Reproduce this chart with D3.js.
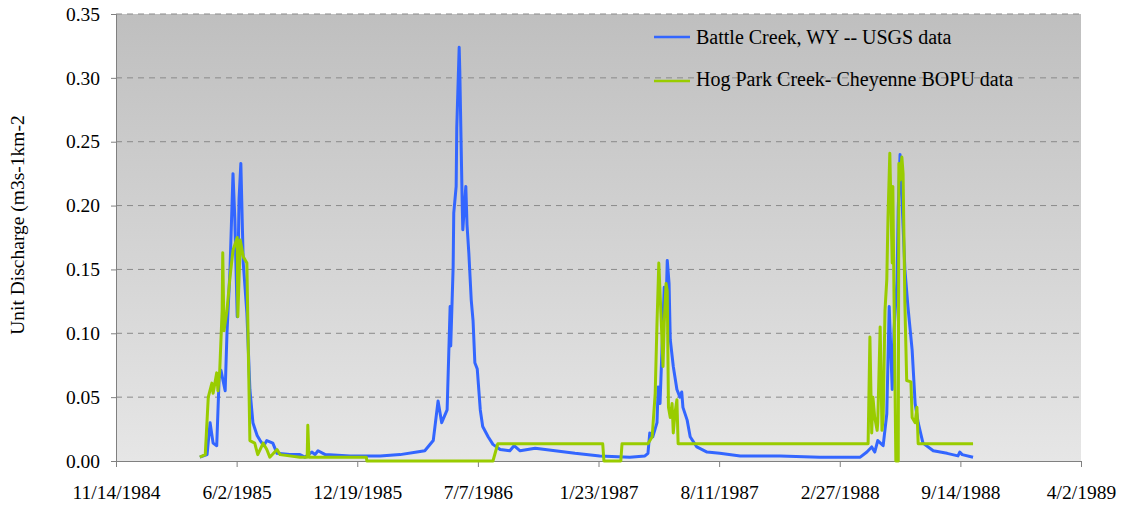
<!DOCTYPE html>
<html>
<head>
<meta charset="utf-8">
<script src="https://cdn.jsdelivr.net/npm/d3@7"></script>
<style>
  html, body { margin: 0; padding: 0; background: #ffffff; }
  svg { display: block; }
  text { font-family: "Liberation Serif", "Times New Roman", serif; fill: #000; }
</style>
</head>
<body>
<svg id="chart" width="1127" height="508"></svg>
<script>
// ---------------- DATA ----------------
const xTickLabels = ["11/14/1984", "6/2/1985", "12/19/1985", "7/7/1986", "1/23/1987",
                     "8/11/1987", "2/27/1988", "9/14/1988", "4/2/1989"];
const yTickValues = [0.00, 0.05, 0.10, 0.15, 0.20, 0.25, 0.30, 0.35];
const seriesNames = ["Battle Creek, WY -- USGS data", "Hog Park Creek- Cheyenne BOPU data"];

const battleDates = [
  "1985-04-02","1985-04-14","1985-04-19","1985-04-24","1985-04-30","1985-05-04","1985-05-07","1985-05-14",
  "1985-05-17","1985-05-22","1985-05-27","1985-05-30","1985-06-03","1985-06-06","1985-06-09","1985-06-13",
  "1985-06-19","1985-06-24","1985-06-29","1985-07-06","1985-07-11","1985-07-17","1985-07-22","1985-08-01",
  "1985-08-08","1985-08-29","1985-09-15","1985-09-23","1985-10-05","1985-10-10","1985-10-15","1985-10-27",
  "1985-12-07","1986-01-26","1986-02-28","1986-03-28","1986-04-10","1986-04-24","1986-05-02","1986-05-08",
  "1986-05-17","1986-05-22","1986-05-23","1986-05-27","1986-05-28","1986-06-01","1986-06-02","1986-06-06",
  "1986-06-07","1986-06-09","1986-06-11","1986-06-12","1986-06-17","1986-06-19","1986-06-22","1986-06-26",
  "1986-06-29","1986-07-02","1986-07-06","1986-07-11","1986-07-15","1986-07-24","1986-08-01","1986-08-13",
  "1986-08-29","1986-09-05","1986-09-15","1986-10-10","1986-11-12","1986-12-15","1987-01-25","1987-03-16",
  "1987-04-10","1987-04-15","1987-04-18","1987-04-23","1987-04-30","1987-05-02","1987-05-05","1987-05-10",
  "1987-05-12","1987-05-15","1987-05-17","1987-05-20","1987-05-22","1987-05-27","1987-06-02","1987-06-07",
  "1987-06-10","1987-06-12","1987-06-19","1987-06-24","1987-07-05","1987-07-22","1987-08-12","1987-09-15",
  "1987-11-20","1988-01-25","1988-04-01","1988-04-12","1988-04-20","1988-04-25","1988-04-30","1988-05-09",
  "1988-05-15","1988-05-19","1988-05-24","1988-05-27","1988-06-01","1988-06-03","1988-06-06","1988-06-09",
  "1988-06-14","1988-06-19","1988-06-26","1988-07-01","1988-07-06","1988-07-14","1988-07-31","1988-08-23",
  "1988-09-10","1988-09-13","1988-09-17","1988-10-05"
];
const battleValues = [
  0.003,0.005,0.030,0.014,0.012,0.065,0.071,0.055,
  0.100,0.150,0.225,0.190,0.113,0.205,0.233,0.155,
  0.116,0.056,0.030,0.020,0.016,0.012,0.016,0.014,
  0.006,0.005,0.005,0.003,0.007,0.005,0.008,0.005,
  0.004,0.004,0.005,0.007,0.008,0.016,0.047,0.030,
  0.040,0.121,0.090,0.152,0.194,0.215,0.261,0.324,
  0.306,0.254,0.202,0.181,0.215,0.185,0.163,0.126,
  0.110,0.077,0.072,0.040,0.027,0.019,0.013,0.009,
  0.008,0.012,0.008,0.010,0.008,0.006,0.004,0.003,
  0.004,0.006,0.022,0.019,0.030,0.058,0.045,0.110,
  0.136,0.120,0.157,0.139,0.095,0.074,0.056,0.050,
  0.054,0.042,0.032,0.019,0.011,0.007,0.006,0.004,
  0.004,0.003,0.003,0.007,0.011,0.007,0.016,0.012,
  0.037,0.121,0.056,0.103,0.141,0.198,0.240,0.207,
  0.150,0.121,0.087,0.045,0.030,0.014,0.008,0.006,
  0.004,0.007,0.005,0.003
];

const hogDates = [
  "1985-04-02","1985-04-11","1985-04-16","1985-04-22","1985-04-24","1985-04-30","1985-05-02","1985-05-05",
  "1985-05-09","1985-05-10","1985-05-12","1985-05-17","1985-05-22","1985-05-27","1985-06-03","1985-06-04",
  "1985-06-08","1985-06-13","1985-06-19","1985-06-21","1985-06-24","1985-07-02","1985-07-07","1985-07-16",
  "1985-07-22","1985-07-27","1985-08-08","1985-08-13","1985-09-15","1985-09-27","1985-09-28","1985-09-30",
  "1986-01-03","1986-01-04","1986-08-01","1986-08-09","1987-01-30","1987-02-01","1987-03-01","1987-03-03",
  "1987-04-15","1987-04-22","1987-04-27","1987-04-30","1987-05-03","1987-05-07","1987-05-10","1987-05-12",
  "1987-05-15","1987-05-17","1987-05-19","1987-05-22","1987-05-25","1987-05-27","1987-05-30","1987-06-02",
  "1987-06-04","1988-04-14","1988-04-17","1988-04-20","1988-04-22","1988-04-25","1988-04-29","1988-04-30",
  "1988-05-04","1988-05-07","1988-05-09","1988-05-12","1988-05-15","1988-05-17","1988-05-20","1988-05-24",
  "1988-05-25","1988-05-27","1988-05-30","1988-06-03","1988-06-04","1988-06-06","1988-06-09","1988-06-11",
  "1988-06-14","1988-06-17","1988-06-24","1988-06-26","1988-07-01","1988-07-04","1988-07-06","1988-10-05"
];
const hogValues = [
  0.003,0.005,0.050,0.061,0.053,0.069,0.055,0.071,
  0.118,0.163,0.102,0.118,0.144,0.165,0.175,0.113,
  0.173,0.160,0.155,0.097,0.016,0.014,0.005,0.014,
  0.009,0.003,0.009,0.005,0.003,0.003,0.028,0.003,
  0.003,0.000,0.000,0.0135,0.0135,0.000,0.000,0.0135,
  0.0135,0.019,0.053,0.108,0.155,0.110,0.074,0.108,
  0.139,0.133,0.042,0.034,0.045,0.022,0.038,0.048,
  0.0135,0.0135,0.097,0.022,0.050,0.034,0.024,0.030,
  0.105,0.024,0.034,0.118,0.142,0.191,0.241,0.155,
  0.215,0.128,0.000,0.000,0.233,0.220,0.238,0.225,
  0.123,0.063,0.062,0.034,0.030,0.042,0.0135,0.0135
];

// ---------------- CHART ----------------
const parseTick = d3.timeParse("%m/%d/%Y");
const parseISO = d3.timeParse("%Y-%m-%d");
const xTicks = xTickLabels.map(parseTick);

const margin = { left: 116, right: 1081, top: 14, bottom: 461 };
const svg = d3.select("#chart");

const x = d3.scaleTime()
  .domain([xTicks[0], xTicks[xTicks.length - 1]])
  .range([margin.left, margin.right]);
const y = d3.scaleLinear().domain([0, 0.35]).range([margin.bottom, margin.top]);

// background gradient
const defs = svg.append("defs");
const grad = defs.append("linearGradient").attr("id", "bg")
  .attr("x1", 0).attr("y1", 0).attr("x2", 0).attr("y2", 1);
grad.append("stop").attr("offset", "0%").attr("stop-color", "#bfbfbf");
grad.append("stop").attr("offset", "100%").attr("stop-color", "#e6e6e6");

svg.append("rect")
  .attr("x", margin.left).attr("y", margin.top)
  .attr("width", margin.right - margin.left)
  .attr("height", margin.bottom - margin.top)
  .attr("fill", "url(#bg)");

// gridlines
svg.append("g")
  .selectAll("line")
  .data(yTickValues.filter(v => v > 0))
  .join("line")
  .attr("x1", margin.left).attr("x2", margin.right)
  .attr("y1", d => y(d)).attr("y2", d => y(d))
  .attr("stroke", "#8a8a8a").attr("stroke-width", 1)
  .attr("stroke-dasharray", "6,5");

const tickFont = "19.5px";

// y axis
const yAxis = svg.append("g")
  .attr("transform", `translate(${margin.left},0)`)
  .call(d3.axisLeft(y).tickValues(yTickValues).tickFormat(d3.format(".2f")).tickSize(5).tickPadding(11));
yAxis.select(".domain").attr("stroke", "#808080");
yAxis.selectAll(".tick line").attr("stroke", "#808080");
yAxis.selectAll(".tick text").style("font-size", tickFont).style("font-family", '"Liberation Serif", serif').attr("fill", "#000");

// x axis
const xAxis = svg.append("g")
  .attr("transform", `translate(0,${margin.bottom})`)
  .call(d3.axisBottom(x).tickValues(xTicks).tickFormat((d, i) => xTickLabels[i]).tickSize(6).tickPadding(18));
xAxis.select(".domain").attr("stroke", "#808080");
xAxis.selectAll(".tick line").attr("stroke", "#808080");
xAxis.selectAll(".tick text").style("font-size", tickFont).style("font-family", '"Liberation Serif", serif').attr("fill", "#000");

// y title
svg.append("text")
  .attr("transform", "translate(24,225) rotate(-90)")
  .attr("text-anchor", "middle")
  .style("font-size", "19.5px")
  .text("Unit Discharge (m3s-1km-2");

// lines
const line = d3.line().x(d => x(d.date)).y(d => y(d.value));
const battle = battleDates.map((d, i) => ({ date: parseISO(d), value: battleValues[i] }));
const hog = hogDates.map((d, i) => ({ date: parseISO(d), value: hogValues[i] }));

const colors = ["#3366ff", "#99cc00"];

svg.append("path").datum(battle)
  .attr("d", line).attr("fill", "none")
  .attr("stroke", colors[0]).attr("stroke-width", 3).attr("stroke-linejoin", "round");
svg.append("path").datum(hog)
  .attr("d", line).attr("fill", "none")
  .attr("stroke", colors[1]).attr("stroke-width", 3).attr("stroke-linejoin", "round");

// legend
const legend = svg.append("g");
const legendLineY = [37, 81];
const legendTextY = [44, 86];
seriesNames.forEach((name, i) => {
  legend.append("line")
    .attr("x1", 654).attr("x2", 690).attr("y1", legendLineY[i]).attr("y2", legendLineY[i])
    .attr("stroke", colors[i]).attr("stroke-width", 2.5);
  legend.append("text")
    .attr("x", 696).attr("y", legendTextY[i])
    .style("font-size", "20px")
    .text(name);
});
</script>
</body>
</html>
